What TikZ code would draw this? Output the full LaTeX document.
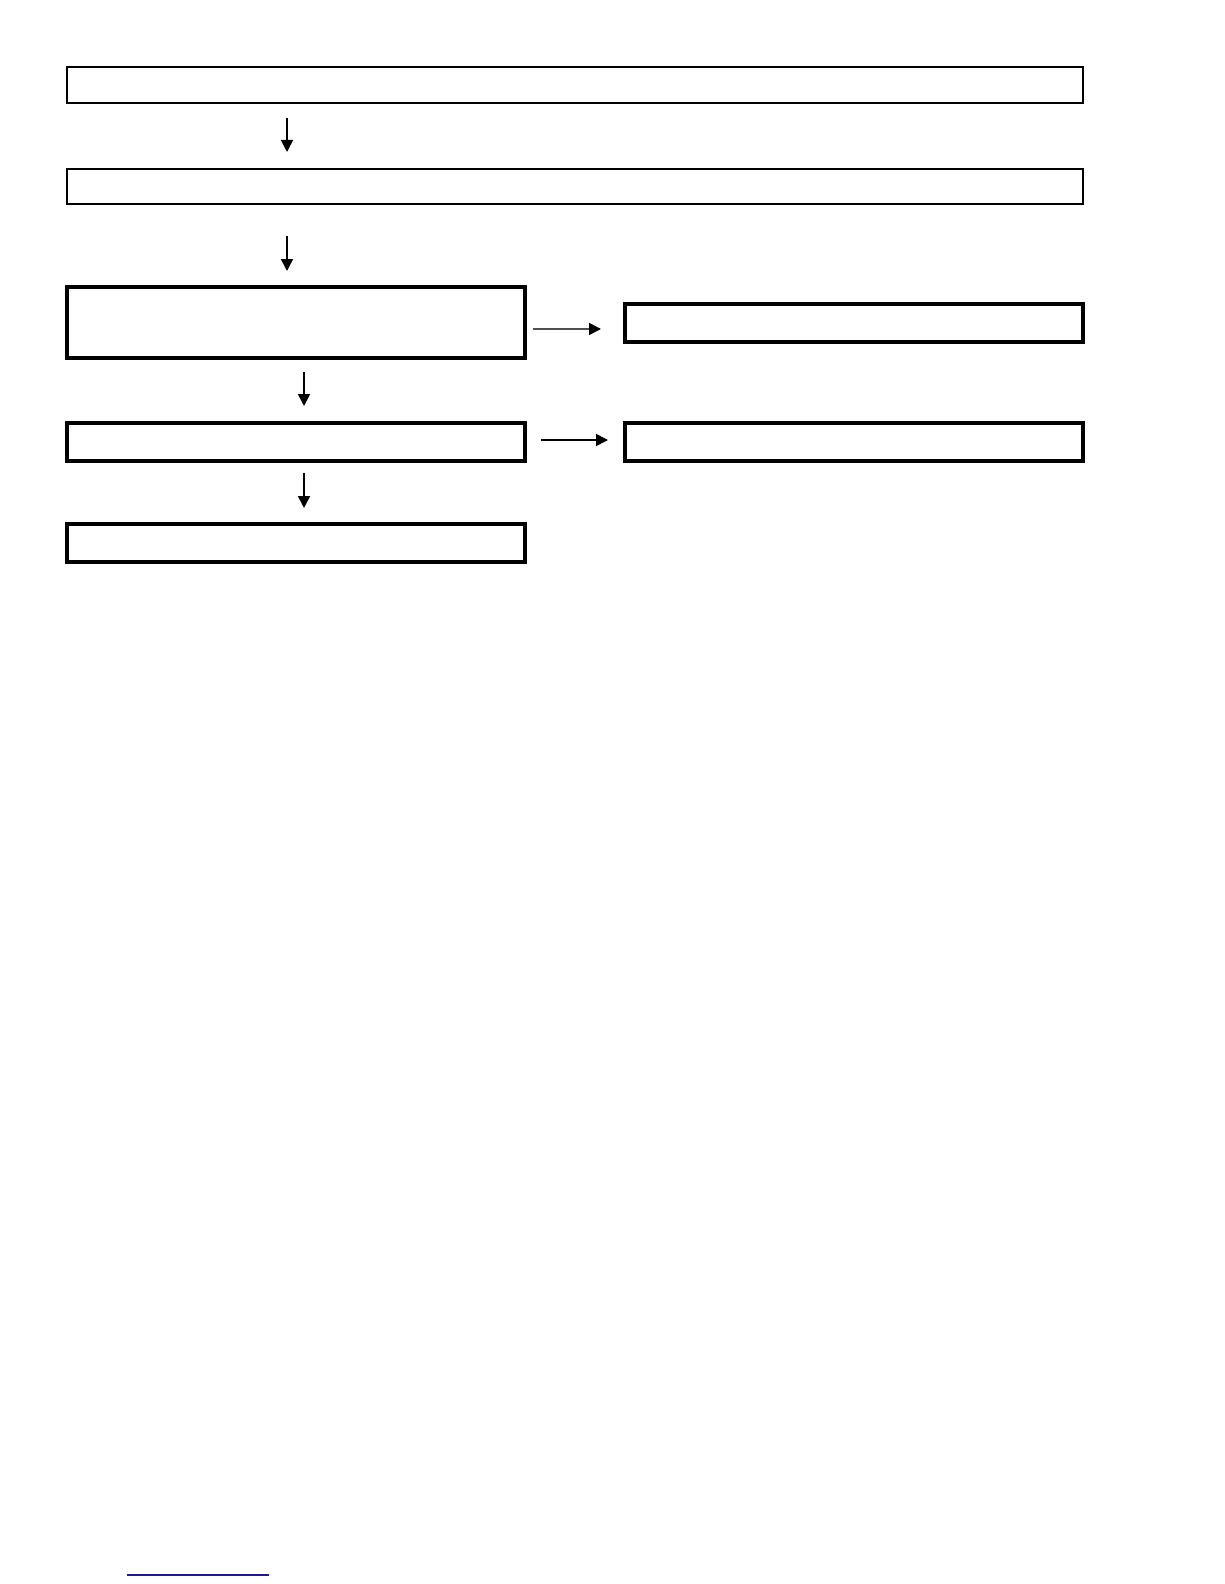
\documentclass[tikz,border=0pt]{standalone}
\usetikzlibrary{arrows.meta}
\definecolor{linkblue}{HTML}{1A1A96}
\definecolor{arrgray}{HTML}{505050}
\tikzset{
  thinbox/.style={draw=black, line width=1.8pt, rectangle, inner sep=0pt, outer sep=0pt, minimum width=1016pt},
  thickbox/.style={draw=black, line width=3.5pt, rectangle, inner sep=0pt, outer sep=0pt, minimum width=458pt, minimum height=38pt},
  arr/.style={line width=1.6pt, -{Triangle[length=12pt,width=12pt,color=black]}},
}
\begin{document}
\begin{tikzpicture}[x=1pt,y=-1pt]
\useasboundingbox (0,0) rectangle (1224,1584);
\fill[white] (0,0) rectangle (1224,1584);
\node[thinbox, minimum height=36pt] (b1) at (575,85) {};
\node[thinbox, line width=1.5pt, minimum height=35pt] (b2) at (575,186.5) {};
\node[thickbox, minimum height=71pt] (b3) at (296,322.5) {};
\node[thickbox] (b4) at (854,323) {};
\node[thickbox] (b5) at (296,442) {};
\node[thickbox] (b6) at (854,442) {};
\node[thickbox] (b7) at (296,543) {};
\coordinate (ax1) at (287,0);
\coordinate (ax2) at (304,0);
\coordinate (ay1) at (0,329);
\coordinate (ay2) at (0,440);
\draw[arr, shorten <=15pt, shorten >=17pt] (b1.south -| ax1) -- (b2.north -| ax1);
\draw[arr, shorten <=32pt, shorten >=16pt] (b2.south -| ax1) -- (b3.north -| ax1);
\draw[arr, shorten <=14pt, shorten >=17pt] (b3.south -| ax2) -- (b5.north -| ax2);
\draw[arr, shorten <=12pt, shorten >=16pt] (b5.south -| ax2) -- (b7.north -| ax2);
\draw[arr, draw=arrgray, shorten <=8pt, shorten >=24pt] (b3.east |- ay1) -- (b4.west |- ay1);
\draw[arr, shorten <=16pt, shorten >=17pt] (b5.east |- ay2) -- (b6.west |- ay2);
\draw[linkblue, line width=1.5pt] (127,1575) -- (269,1575);
\end{tikzpicture}
\end{document}
